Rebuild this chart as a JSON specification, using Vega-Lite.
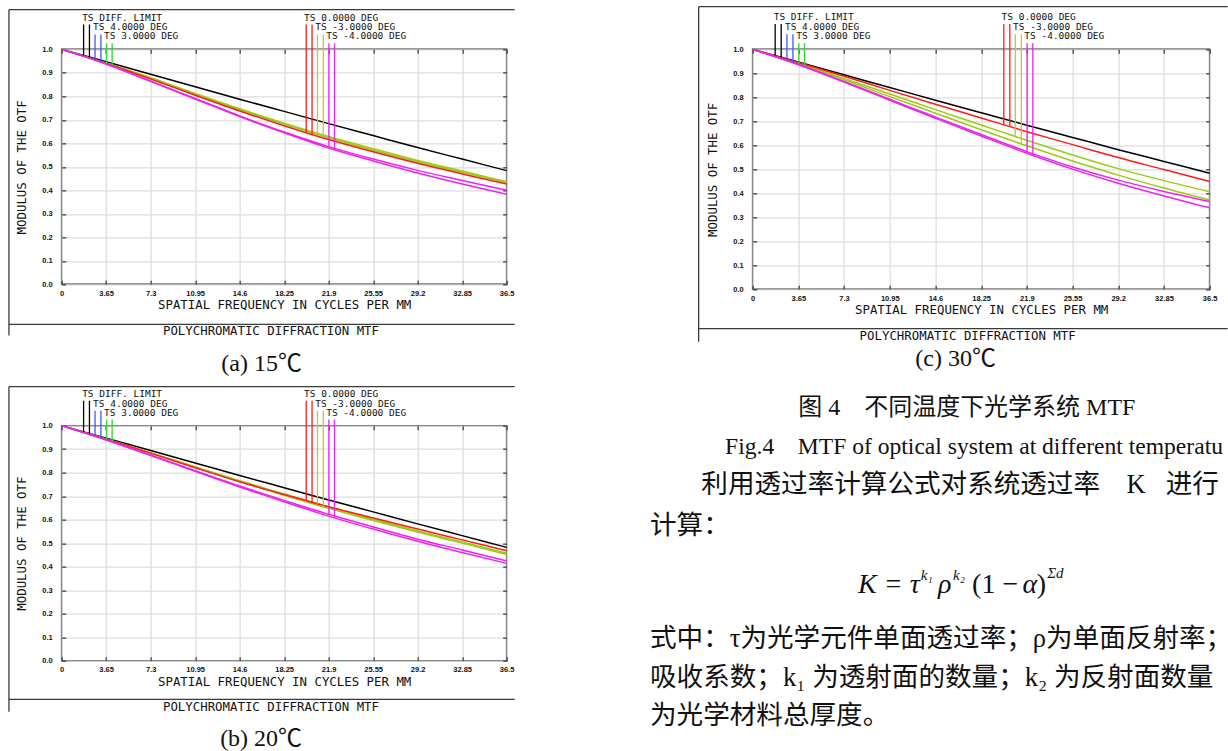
{
  "$schema": "https://vega.github.io/schema/vega-lite/v6.json",
  "padding": {"left": 6.65, "top": 4.35, "right": 0, "bottom": 0},
  "background": "white",
  "config": {
    "view": {"stroke": null},
    "axis": {
      "domain": false, "grid": true, "gridColor": "#dedede", "gridWidth": 1.3,
      "tickColor": "#333", "tickWidth": 1.2, "tickSize": -4,
      "labelFont": "Liberation Sans", "labelFontWeight": "bold", "labelFontSize": 7.5, "labelColor": "#111",
      "labelFlush": false, "labelOverlap": false,
      "titleFont": "DejaVu Sans Mono", "titleFontWeight": "normal", "titleFontSize": 12.4, "titleColor": "#111"
    },
    "axisX": {"labelPadding": 9, "titlePadding": 2},
    "axisY": {"labelPadding": 13.5, "titlePadding": 13}
  },
  "datasets": {
    "curves": [
      {"p": "a", "f": 0, "DIFF": 1, "G3S": 1, "G3T": 1, "P0": 1, "M4S": 1, "M4T": 1},
      {"p": "a", "f": 3.65, "DIFF": 0.947, "G3S": 0.942, "G3T": 0.941, "P0": 0.94, "M4S": 0.938, "M4T": 0.938},
      {"p": "a", "f": 7.3, "DIFF": 0.894, "G3S": 0.879, "G3T": 0.877, "P0": 0.874, "M4S": 0.865, "M4T": 0.864},
      {"p": "a", "f": 10.95, "DIFF": 0.841, "G3S": 0.812, "G3T": 0.809, "P0": 0.805, "M4S": 0.791, "M4T": 0.789},
      {"p": "a", "f": 14.6, "DIFF": 0.788, "G3S": 0.747, "G3T": 0.743, "P0": 0.738, "M4S": 0.717, "M4T": 0.714},
      {"p": "a", "f": 18.25, "DIFF": 0.736, "G3S": 0.686, "G3T": 0.682, "P0": 0.675, "M4S": 0.648, "M4T": 0.645},
      {"p": "a", "f": 21.9, "DIFF": 0.684, "G3S": 0.629, "G3T": 0.624, "P0": 0.616, "M4S": 0.586, "M4T": 0.58},
      {"p": "a", "f": 25.55, "DIFF": 0.633, "G3S": 0.577, "G3T": 0.571, "P0": 0.564, "M4S": 0.533, "M4T": 0.525},
      {"p": "a", "f": 29.2, "DIFF": 0.582, "G3S": 0.527, "G3T": 0.522, "P0": 0.515, "M4S": 0.485, "M4T": 0.474},
      {"p": "a", "f": 32.85, "DIFF": 0.533, "G3S": 0.482, "G3T": 0.477, "P0": 0.47, "M4S": 0.442, "M4T": 0.427},
      {"p": "a", "f": 36.5, "DIFF": 0.484, "G3S": 0.437, "G3T": 0.433, "P0": 0.427, "M4S": 0.4, "M4T": 0.383},
      {"p": "b", "f": 0, "DIFF": 1, "G3S": 1, "G3T": 1, "P0": 1, "M4S": 1, "M4T": 1},
      {"p": "b", "f": 3.65, "DIFF": 0.947, "G3S": 0.943, "G3T": 0.942, "P0": 0.943, "M4S": 0.94, "M4T": 0.939},
      {"p": "b", "f": 7.3, "DIFF": 0.894, "G3S": 0.885, "G3T": 0.883, "P0": 0.883, "M4S": 0.875, "M4T": 0.873},
      {"p": "b", "f": 10.95, "DIFF": 0.841, "G3S": 0.825, "G3T": 0.823, "P0": 0.821, "M4S": 0.808, "M4T": 0.806},
      {"p": "b", "f": 14.6, "DIFF": 0.788, "G3S": 0.766, "G3T": 0.762, "P0": 0.761, "M4S": 0.743, "M4T": 0.739},
      {"p": "b", "f": 18.25, "DIFF": 0.736, "G3S": 0.709, "G3T": 0.704, "P0": 0.707, "M4S": 0.682, "M4T": 0.676},
      {"p": "b", "f": 21.9, "DIFF": 0.684, "G3S": 0.654, "G3T": 0.648, "P0": 0.655, "M4S": 0.623, "M4T": 0.615},
      {"p": "b", "f": 25.55, "DIFF": 0.633, "G3S": 0.602, "G3T": 0.596, "P0": 0.607, "M4S": 0.569, "M4T": 0.56},
      {"p": "b", "f": 29.2, "DIFF": 0.582, "G3S": 0.552, "G3T": 0.547, "P0": 0.56, "M4S": 0.517, "M4T": 0.508},
      {"p": "b", "f": 32.85, "DIFF": 0.532, "G3S": 0.505, "G3T": 0.5, "P0": 0.514, "M4S": 0.471, "M4T": 0.46},
      {"p": "b", "f": 36.5, "DIFF": 0.482, "G3S": 0.457, "G3T": 0.452, "P0": 0.468, "M4S": 0.424, "M4T": 0.414},
      {"p": "c", "f": 0, "DIFF": 1, "G3S": 1, "G3T": 1, "P0": 1, "M4S": 1, "M4T": 1},
      {"p": "c", "f": 3.65, "DIFF": 0.947, "G3S": 0.941, "G3T": 0.939, "P0": 0.945, "M4S": 0.938, "M4T": 0.936},
      {"p": "c", "f": 7.3, "DIFF": 0.894, "G3S": 0.879, "G3T": 0.873, "P0": 0.888, "M4S": 0.866, "M4T": 0.864},
      {"p": "c", "f": 10.95, "DIFF": 0.841, "G3S": 0.814, "G3T": 0.803, "P0": 0.829, "M4S": 0.792, "M4T": 0.788},
      {"p": "c", "f": 14.6, "DIFF": 0.788, "G3S": 0.749, "G3T": 0.734, "P0": 0.771, "M4S": 0.718, "M4T": 0.713},
      {"p": "c", "f": 18.25, "DIFF": 0.736, "G3S": 0.685, "G3T": 0.665, "P0": 0.714, "M4S": 0.645, "M4T": 0.639},
      {"p": "c", "f": 21.9, "DIFF": 0.684, "G3S": 0.621, "G3T": 0.598, "P0": 0.657, "M4S": 0.574, "M4T": 0.567},
      {"p": "c", "f": 25.55, "DIFF": 0.633, "G3S": 0.56, "G3T": 0.535, "P0": 0.603, "M4S": 0.51, "M4T": 0.501},
      {"p": "c", "f": 29.2, "DIFF": 0.582, "G3S": 0.503, "G3T": 0.476, "P0": 0.549, "M4S": 0.455, "M4T": 0.442},
      {"p": "c", "f": 32.85, "DIFF": 0.533, "G3S": 0.453, "G3T": 0.422, "P0": 0.499, "M4S": 0.408, "M4T": 0.389},
      {"p": "c", "f": 36.5, "DIFF": 0.484, "G3S": 0.407, "G3T": 0.372, "P0": 0.449, "M4S": 0.366, "M4T": 0.34}
    ],
    "markers": [
      {"p": "a", "k": "DIFF", "x": 1.8, "top": 1.106, "v": 0.974},
      {"p": "a", "k": "DIFF", "x": 2.28, "top": 1.106, "v": 0.967},
      {"p": "a", "k": "P4", "x": 2.74, "top": 1.063, "v": 0.954},
      {"p": "a", "k": "P4", "x": 3.22, "top": 1.063, "v": 0.945},
      {"p": "a", "k": "P3", "x": 3.69, "top": 1.026, "v": 0.942},
      {"p": "a", "k": "P3", "x": 4.14, "top": 1.026, "v": 0.933},
      {"p": "a", "k": "P0", "x": 20.06, "top": 1.106, "v": 0.646},
      {"p": "a", "k": "P0", "x": 20.54, "top": 1.106, "v": 0.638},
      {"p": "a", "k": "M3", "x": 20.98, "top": 1.063, "v": 0.643},
      {"p": "a", "k": "M3", "x": 21.46, "top": 1.063, "v": 0.631},
      {"p": "a", "k": "M4", "x": 21.92, "top": 1.026, "v": 0.586},
      {"p": "a", "k": "M4", "x": 22.38, "top": 1.026, "v": 0.573},
      {"p": "b", "k": "DIFF", "x": 1.8, "top": 1.106, "v": 0.974},
      {"p": "b", "k": "DIFF", "x": 2.28, "top": 1.106, "v": 0.967},
      {"p": "b", "k": "P4", "x": 2.74, "top": 1.063, "v": 0.955},
      {"p": "b", "k": "P4", "x": 3.22, "top": 1.063, "v": 0.946},
      {"p": "b", "k": "P3", "x": 3.69, "top": 1.026, "v": 0.942},
      {"p": "b", "k": "P3", "x": 4.14, "top": 1.026, "v": 0.934},
      {"p": "b", "k": "P0", "x": 20.06, "top": 1.106, "v": 0.681},
      {"p": "b", "k": "P0", "x": 20.54, "top": 1.106, "v": 0.674},
      {"p": "b", "k": "M3", "x": 20.98, "top": 1.063, "v": 0.668},
      {"p": "b", "k": "M3", "x": 21.46, "top": 1.063, "v": 0.655},
      {"p": "b", "k": "M4", "x": 21.92, "top": 1.026, "v": 0.623},
      {"p": "b", "k": "M4", "x": 22.38, "top": 1.026, "v": 0.608},
      {"p": "c", "k": "DIFF", "x": 1.8, "top": 1.106, "v": 0.974},
      {"p": "c", "k": "DIFF", "x": 2.28, "top": 1.106, "v": 0.967},
      {"p": "c", "k": "P4", "x": 2.74, "top": 1.063, "v": 0.953},
      {"p": "c", "k": "P4", "x": 3.22, "top": 1.063, "v": 0.944},
      {"p": "c", "k": "P3", "x": 3.69, "top": 1.026, "v": 0.941},
      {"p": "c", "k": "P3", "x": 4.14, "top": 1.026, "v": 0.931},
      {"p": "c", "k": "P0", "x": 20.06, "top": 1.106, "v": 0.686},
      {"p": "c", "k": "P0", "x": 20.54, "top": 1.106, "v": 0.678},
      {"p": "c", "k": "M3", "x": 20.98, "top": 1.063, "v": 0.637},
      {"p": "c", "k": "M3", "x": 21.46, "top": 1.063, "v": 0.606},
      {"p": "c", "k": "M4", "x": 21.92, "top": 1.026, "v": 0.574},
      {"p": "c", "k": "M4", "x": 22.38, "top": 1.026, "v": 0.558}
    ],
    "labels": [
      {"t": "TS DIFF. LIMIT", "x": 1.68, "y": 1.135},
      {"t": "TS 4.0000 DEG", "x": 2.58, "y": 1.094},
      {"t": "TS 3.0000 DEG", "x": 3.48, "y": 1.055},
      {"t": "TS 0.0000 DEG", "x": 19.88, "y": 1.135},
      {"t": "TS -3.0000 DEG", "x": 20.8, "y": 1.094},
      {"t": "TS -4.0000 DEG", "x": 21.7, "y": 1.055}
    ]
  },
  "columns": 2,
  "bounds": "flush",
  "spacing": {"row": 136.3, "column": 246},
  "concat": [
    {
      "width": 445, "height": 235,
      "view": {"stroke": "#333", "strokeWidth": 1.5},
      "resolve": {"axis": {"x": "independent", "y": "independent"}},
      "layer": [
        {
          "data": {"name": "curves"},
          "transform": [{"filter": "datum.p === 'a'"}, {"fold": ["DIFF", "G3S", "G3T", "P0", "M4S", "M4T"], "as": ["k", "v"]}],
          "mark": {"type": "line", "strokeWidth": 1.5, "interpolate": "monotone"},
          "encoding": {
            "x": {"field": "f", "type": "quantitative", "scale": {"domain": [0, 36.5], "nice": false},
                  "axis": {"values": [0, 3.65, 7.3, 10.95, 14.6, 18.25, 21.9, 25.55, 29.2, 32.85, 36.5], "labelExpr": "'' + datum.value", "title": "SPATIAL FREQUENCY IN CYCLES PER MM"}},
            "y": {"field": "v", "type": "quantitative", "scale": {"domain": [0, 1], "nice": false},
                  "axis": {"values": [0, 0.1, 0.2, 0.3, 0.4, 0.5, 0.6, 0.7, 0.8, 0.9, 1], "format": ".1f", "title": "MODULUS OF THE OTF"}},
            "color": {"field": "k", "type": "nominal", "legend": null,
                      "scale": {"domain": ["DIFF", "P4", "P3", "P0", "M3", "M4", "G3S", "G3T", "M4S", "M4T"],
                                "range": ["#000000", "#3b5bff", "#2bd82b", "#ff1a1a", "#c9c23c", "#ee22ee", "#99cc11", "#99cc11", "#ee22ee", "#ee22ee"]}}
          }
        },
        {
          "data": {"name": "markers"},
          "transform": [{"filter": "datum.p === 'a'"}],
          "mark": {"type": "rule", "strokeWidth": 1.3},
          "encoding": {
            "x": {"field": "x", "type": "quantitative", "axis": {"orient": "top", "values": [0, 3.65, 7.3, 10.95, 14.6, 18.25, 21.9, 25.55, 29.2, 32.85, 36.5], "labels": false, "grid": false, "title": null}},
            "y": {"field": "top", "type": "quantitative", "axis": {"orient": "right", "values": [0, 0.1, 0.2, 0.3, 0.4, 0.5, 0.6, 0.7, 0.8, 0.9, 1], "labels": false, "grid": false, "title": null}},
            "y2": {"field": "v"},
            "color": {"field": "k", "type": "nominal", "legend": null}
          }
        },
        {
          "data": {"name": "labels"},
          "mark": {"type": "text", "align": "left", "baseline": "middle", "font": "DejaVu Sans Mono", "fontSize": 9.5, "color": "#111"},
          "encoding": {"x": {"field": "x", "type": "quantitative", "axis": null}, "y": {"field": "y", "type": "quantitative", "axis": null}, "text": {"field": "t"}}
        },
        {
          "data": {"values": [{}]},
          "mark": {"type": "rule", "color": "#3a3a3a", "strokeWidth": 1.3},
          "encoding": {"x": {"datum": -4.323, "type": "quantitative", "axis": null}, "x2": {"datum": 37.157}, "y": {"datum": 1.169, "type": "quantitative", "axis": null}}
        },
        {
          "data": {"values": [{}]},
          "mark": {"type": "rule", "color": "#3a3a3a", "strokeWidth": 1.3},
          "encoding": {"x": {"datum": -4.323, "type": "quantitative", "axis": null}, "y": {"datum": 1.169, "type": "quantitative", "axis": null}, "y2": {"datum": -0.218}}
        },
        {
          "data": {"values": [{}]},
          "mark": {"type": "rule", "color": "#3a3a3a", "strokeWidth": 1.3},
          "encoding": {"x": {"datum": -4.323, "type": "quantitative", "axis": null}, "x2": {"datum": 37.157}, "y": {"datum": -0.17, "type": "quantitative", "axis": null}}
        },
        {
          "data": {"values": [{}]},
          "mark": {"type": "text", "text": "POLYCHROMATIC DIFFRACTION MTF", "align": "center", "baseline": "middle", "font": "DejaVu Sans Mono", "fontSize": 12.4, "color": "#111"},
          "encoding": {"x": {"datum": 17.17, "type": "quantitative", "axis": null}, "y": {"datum": -0.197, "type": "quantitative", "axis": null}}
        },
        {
          "data": {"values": [{}]},
          "mark": {"type": "text", "text": "(a) 15℃", "align": "center", "baseline": "middle", "font": "Liberation Serif, Noto Sans CJK SC", "fontSize": 24, "color": "#111"},
          "encoding": {"x": {"datum": 16.4, "type": "quantitative", "axis": null}, "y": {"datum": -0.337, "type": "quantitative", "axis": null}}
        }
      ]
    },
    {
      "width": 457, "height": 240,
      "view": {"stroke": "#333", "strokeWidth": 1.5},
      "resolve": {"axis": {"x": "independent", "y": "independent"}},
      "layer": [
        {
          "data": {"name": "curves"},
          "transform": [{"filter": "datum.p === 'c'"}, {"fold": ["DIFF", "G3S", "G3T", "P0", "M4S", "M4T"], "as": ["k", "v"]}],
          "mark": {"type": "line", "strokeWidth": 1.5, "interpolate": "monotone"},
          "encoding": {
            "x": {"field": "f", "type": "quantitative", "scale": {"domain": [0, 36.5], "nice": false},
                  "axis": {"values": [0, 3.65, 7.3, 10.95, 14.6, 18.25, 21.9, 25.55, 29.2, 32.85, 36.5], "labelExpr": "'' + datum.value", "title": "SPATIAL FREQUENCY IN CYCLES PER MM"}},
            "y": {"field": "v", "type": "quantitative", "scale": {"domain": [0, 1], "nice": false},
                  "axis": {"values": [0, 0.1, 0.2, 0.3, 0.4, 0.5, 0.6, 0.7, 0.8, 0.9, 1], "format": ".1f", "title": "MODULUS OF THE OTF"}},
            "color": {"field": "k", "type": "nominal", "legend": null}
          }
        },
        {
          "data": {"name": "markers"},
          "transform": [{"filter": "datum.p === 'c'"}],
          "mark": {"type": "rule", "strokeWidth": 1.3},
          "encoding": {
            "x": {"field": "x", "type": "quantitative", "axis": {"orient": "top", "values": [0, 3.65, 7.3, 10.95, 14.6, 18.25, 21.9, 25.55, 29.2, 32.85, 36.5], "labels": false, "grid": false, "title": null}},
            "y": {"field": "top", "type": "quantitative", "axis": {"orient": "right", "values": [0, 0.1, 0.2, 0.3, 0.4, 0.5, 0.6, 0.7, 0.8, 0.9, 1], "labels": false, "grid": false, "title": null}},
            "y2": {"field": "v"},
            "color": {"field": "k", "type": "nominal", "legend": null}
          }
        },
        {
          "data": {"name": "labels"},
          "mark": {"type": "text", "align": "left", "baseline": "middle", "font": "DejaVu Sans Mono", "fontSize": 9.5, "color": "#111"},
          "encoding": {"x": {"field": "x", "type": "quantitative", "axis": null}, "y": {"field": "y", "type": "quantitative", "axis": null}, "text": {"field": "t"}}
        },
        {
          "data": {"values": [{}]},
          "mark": {"type": "rule", "color": "#3a3a3a", "strokeWidth": 1.3},
          "encoding": {"x": {"datum": -4.313, "type": "quantitative", "axis": null}, "x2": {"datum": 37.938}, "y": {"datum": 1.178, "type": "quantitative", "axis": null}}
        },
        {
          "data": {"values": [{}]},
          "mark": {"type": "rule", "color": "#3a3a3a", "strokeWidth": 1.3},
          "encoding": {"x": {"datum": -4.313, "type": "quantitative", "axis": null}, "y": {"datum": 1.178, "type": "quantitative", "axis": null}, "y2": {"datum": -0.218}}
        },
        {
          "data": {"values": [{}]},
          "mark": {"type": "rule", "color": "#3a3a3a", "strokeWidth": 1.3},
          "encoding": {"x": {"datum": -4.313, "type": "quantitative", "axis": null}, "x2": {"datum": 37.938}, "y": {"datum": -0.164, "type": "quantitative", "axis": null}}
        },
        {
          "data": {"values": [{}]},
          "mark": {"type": "text", "text": "POLYCHROMATIC DIFFRACTION MTF", "align": "center", "baseline": "middle", "font": "DejaVu Sans Mono", "fontSize": 12.4, "color": "#111"},
          "encoding": {"x": {"datum": 17.17, "type": "quantitative", "axis": null}, "y": {"datum": -0.193, "type": "quantitative", "axis": null}}
        },
        {
          "data": {"values": [{}]},
          "mark": {"type": "text", "text": "(c) 30℃", "align": "center", "baseline": "middle", "font": "Liberation Serif, Noto Sans CJK SC", "fontSize": 24, "color": "#111"},
          "encoding": {"x": {"datum": 16.21, "type": "quantitative", "axis": null}, "y": {"datum": -0.292, "type": "quantitative", "axis": null}}
        }
      ]
    },
    {
      "width": 445, "height": 235,
      "view": {"stroke": "#333", "strokeWidth": 1.5},
      "resolve": {"axis": {"x": "independent", "y": "independent"}},
      "layer": [
        {
          "data": {"name": "curves"},
          "transform": [{"filter": "datum.p === 'b'"}, {"fold": ["DIFF", "G3S", "G3T", "P0", "M4S", "M4T"], "as": ["k", "v"]}],
          "mark": {"type": "line", "strokeWidth": 1.5, "interpolate": "monotone"},
          "encoding": {
            "x": {"field": "f", "type": "quantitative", "scale": {"domain": [0, 36.5], "nice": false},
                  "axis": {"values": [0, 3.65, 7.3, 10.95, 14.6, 18.25, 21.9, 25.55, 29.2, 32.85, 36.5], "labelExpr": "'' + datum.value", "title": "SPATIAL FREQUENCY IN CYCLES PER MM"}},
            "y": {"field": "v", "type": "quantitative", "scale": {"domain": [0, 1], "nice": false},
                  "axis": {"values": [0, 0.1, 0.2, 0.3, 0.4, 0.5, 0.6, 0.7, 0.8, 0.9, 1], "format": ".1f", "title": "MODULUS OF THE OTF"}},
            "color": {"field": "k", "type": "nominal", "legend": null}
          }
        },
        {
          "data": {"name": "markers"},
          "transform": [{"filter": "datum.p === 'b'"}],
          "mark": {"type": "rule", "strokeWidth": 1.3},
          "encoding": {
            "x": {"field": "x", "type": "quantitative", "axis": {"orient": "top", "values": [0, 3.65, 7.3, 10.95, 14.6, 18.25, 21.9, 25.55, 29.2, 32.85, 36.5], "labels": false, "grid": false, "title": null}},
            "y": {"field": "top", "type": "quantitative", "axis": {"orient": "right", "values": [0, 0.1, 0.2, 0.3, 0.4, 0.5, 0.6, 0.7, 0.8, 0.9, 1], "labels": false, "grid": false, "title": null}},
            "y2": {"field": "v"},
            "color": {"field": "k", "type": "nominal", "legend": null}
          }
        },
        {
          "data": {"name": "labels"},
          "mark": {"type": "text", "align": "left", "baseline": "middle", "font": "DejaVu Sans Mono", "fontSize": 9.5, "color": "#111"},
          "encoding": {"x": {"field": "x", "type": "quantitative", "axis": null}, "y": {"field": "y", "type": "quantitative", "axis": null}, "text": {"field": "t"}}
        },
        {
          "data": {"values": [{}]},
          "mark": {"type": "rule", "color": "#3a3a3a", "strokeWidth": 1.3},
          "encoding": {"x": {"datum": -4.323, "type": "quantitative", "axis": null}, "x2": {"datum": 37.157}, "y": {"datum": 1.166, "type": "quantitative", "axis": null}}
        },
        {
          "data": {"values": [{}]},
          "mark": {"type": "rule", "color": "#3a3a3a", "strokeWidth": 1.3},
          "encoding": {"x": {"datum": -4.323, "type": "quantitative", "axis": null}, "y": {"datum": 1.166, "type": "quantitative", "axis": null}, "y2": {"datum": -0.217}}
        },
        {
          "data": {"values": [{}]},
          "mark": {"type": "rule", "color": "#3a3a3a", "strokeWidth": 1.3},
          "encoding": {"x": {"datum": -4.323, "type": "quantitative", "axis": null}, "x2": {"datum": 37.157}, "y": {"datum": -0.165, "type": "quantitative", "axis": null}}
        },
        {
          "data": {"values": [{}]},
          "mark": {"type": "text", "text": "POLYCHROMATIC DIFFRACTION MTF", "align": "center", "baseline": "middle", "font": "DejaVu Sans Mono", "fontSize": 12.4, "color": "#111"},
          "encoding": {"x": {"datum": 17.17, "type": "quantitative", "axis": null}, "y": {"datum": -0.197, "type": "quantitative", "axis": null}}
        },
        {
          "data": {"values": [{}]},
          "mark": {"type": "text", "text": "(b) 20℃", "align": "center", "baseline": "middle", "font": "Liberation Serif, Noto Sans CJK SC", "fontSize": 24, "color": "#111"},
          "encoding": {"x": {"datum": 16.36, "type": "quantitative", "axis": null}, "y": {"datum": -0.332, "type": "quantitative", "axis": null}}
        }
      ]
    },
    {
      "width": 475, "height": 326,
      "view": {"stroke": null},
      "layer": [
        {
          "data": {"values": [{}]},
          "mark": {"type": "text", "text": "图 4　不同温度下光学系统 MTF", "align": "left", "baseline": "middle", "font": "Liberation Serif, Noto Sans CJK SC", "fontSize": 24, "color": "#111"},
          "encoding": {"x": {"datum": 48, "type": "quantitative", "scale": {"domain": [0, 475], "range": [0, 475]}, "axis": null},
                       "y": {"datum": -19, "type": "quantitative", "scale": {"domain": [0, 326], "range": [0, 326]}, "axis": null}}
        },
        {
          "data": {"values": [{}]},
          "mark": {"type": "text", "text": "Fig.4　MTF of optical system at different temperatures", "align": "left", "baseline": "middle", "font": "Liberation Serif, Noto Sans CJK SC", "fontSize": 23.6, "color": "#111", "limit": 505, "ellipsis": "\u200b"},
          "encoding": {"x": {"datum": -29, "type": "quantitative", "axis": null}, "y": {"datum": 23, "type": "quantitative", "axis": null}}
        },
        {
          "data": {"values": [{}]},
          "mark": {"type": "text", "text": "利用透过率计算公式对系统透过率\u00a0\u00a0\u00a0\u00a0K\u00a0\u00a0\u00a0进行", "align": "left", "baseline": "middle", "font": "Liberation Serif, Noto Sans CJK SC", "fontSize": 26.6, "color": "#111", "limit": 528, "ellipsis": "\u200b"},
          "encoding": {"x": {"datum": -54, "type": "quantitative", "axis": null}, "y": {"datum": 64, "type": "quantitative", "axis": null}}
        },
        {
          "data": {"values": [{}]},
          "mark": {"type": "text", "text": "计算：", "align": "left", "baseline": "middle", "font": "Liberation Serif, Noto Sans CJK SC", "fontSize": 26.6, "color": "#111"},
          "encoding": {"x": {"datum": -108, "type": "quantitative", "axis": null}, "y": {"datum": 108, "type": "quantitative", "axis": null}}
        },
        {
          "data": {"values": [{}]},
          "mark": {"type": "text", "text": "K = τ", "align": "left", "baseline": "middle", "font": "Liberation Serif", "fontStyle": "italic", "fontSize": 28, "color": "#111"},
          "encoding": {"x": {"datum": 111, "type": "quantitative", "axis": null}, "y": {"datum": 171, "type": "quantitative", "axis": null}}
        },
        {
          "data": {"values": [{}]},
          "mark": {"type": "text", "text": "k₁", "align": "left", "baseline": "middle", "font": "Liberation Serif", "fontStyle": "italic", "fontSize": 15, "color": "#111"},
          "encoding": {"x": {"datum": 177, "type": "quantitative", "axis": null}, "y": {"datum": 160, "type": "quantitative", "axis": null}}
        },
        {
          "data": {"values": [{}]},
          "mark": {"type": "text", "text": "ρ", "align": "left", "baseline": "middle", "font": "Liberation Serif", "fontStyle": "italic", "fontSize": 28, "color": "#111"},
          "encoding": {"x": {"datum": 195, "type": "quantitative", "axis": null}, "y": {"datum": 171, "type": "quantitative", "axis": null}}
        },
        {
          "data": {"values": [{}]},
          "mark": {"type": "text", "text": "k₂", "align": "left", "baseline": "middle", "font": "Liberation Serif", "fontStyle": "italic", "fontSize": 15, "color": "#111"},
          "encoding": {"x": {"datum": 211, "type": "quantitative", "axis": null}, "y": {"datum": 160, "type": "quantitative", "axis": null}}
        },
        {
          "data": {"values": [{}]},
          "mark": {"type": "text", "text": "(1 −", "align": "left", "baseline": "middle", "font": "Liberation Serif", "fontSize": 28, "color": "#111"},
          "encoding": {"x": {"datum": 231, "type": "quantitative", "axis": null}, "y": {"datum": 171, "type": "quantitative", "axis": null}}
        },
        {
          "data": {"values": [{}]},
          "mark": {"type": "text", "text": "α", "align": "left", "baseline": "middle", "font": "Liberation Serif", "fontStyle": "italic", "fontSize": 28, "color": "#111"},
          "encoding": {"x": {"datum": 284, "type": "quantitative", "axis": null}, "y": {"datum": 171, "type": "quantitative", "axis": null}}
        },
        {
          "data": {"values": [{}]},
          "mark": {"type": "text", "text": ")", "align": "left", "baseline": "middle", "font": "Liberation Serif", "fontSize": 28, "color": "#111"},
          "encoding": {"x": {"datum": 299, "type": "quantitative", "axis": null}, "y": {"datum": 171, "type": "quantitative", "axis": null}}
        },
        {
          "data": {"values": [{}]},
          "mark": {"type": "text", "text": "Σd", "align": "left", "baseline": "middle", "font": "Liberation Serif", "fontStyle": "italic", "fontSize": 15, "color": "#111"},
          "encoding": {"x": {"datum": 310, "type": "quantitative", "axis": null}, "y": {"datum": 158, "type": "quantitative", "axis": null}}
        },
        {
          "data": {"values": [{}]},
          "mark": {"type": "text", "text": "式中：τ为光学元件单面透过率；ρ为单面反射率；", "align": "left", "baseline": "middle", "font": "Liberation Serif, Noto Sans CJK SC", "fontSize": 26.6, "color": "#111", "limit": 585, "ellipsis": "\u200b"},
          "encoding": {"x": {"datum": -108, "type": "quantitative", "axis": null}, "y": {"datum": 229, "type": "quantitative", "axis": null}}
        },
        {
          "data": {"values": [{}]},
          "mark": {"type": "text", "text": "吸收系数；k₁ 为透射面的数量；k₂ 为反射面数量；Σd", "align": "left", "baseline": "middle", "font": "Liberation Serif, Noto Sans CJK SC", "fontSize": 26.6, "color": "#111", "limit": 585, "ellipsis": "\u200b"},
          "encoding": {"x": {"datum": -108, "type": "quantitative", "axis": null}, "y": {"datum": 271, "type": "quantitative", "axis": null}}
        },
        {
          "data": {"values": [{}]},
          "mark": {"type": "text", "text": "为光学材料总厚度。", "align": "left", "baseline": "middle", "font": "Liberation Serif, Noto Sans CJK SC", "fontSize": 26.6, "color": "#111"},
          "encoding": {"x": {"datum": -108, "type": "quantitative", "axis": null}, "y": {"datum": 312, "type": "quantitative", "axis": null}}
        }
      ]
    }
  ]
}
